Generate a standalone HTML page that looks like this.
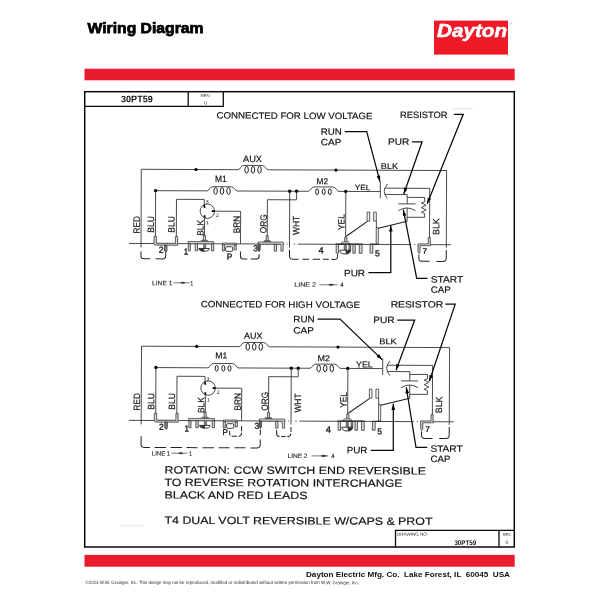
<!DOCTYPE html>
<html>
<head>
<meta charset="utf-8">
<title>Wiring Diagram</title>
<style>
html,body{margin:0;padding:0;background:#fff;}
body{width:600px;height:600px;overflow:hidden;font-family:"Liberation Sans",sans-serif;}
svg{display:block;position:absolute;left:0;top:0;will-change:transform;filter:grayscale(0);}
text{font-family:"Liberation Sans",sans-serif;fill:#111;}
.b{font-weight:bold;}
.nb text{stroke-width:0.3 !important;}
.lg text{fill:#222;stroke:#222;stroke-width:0.12;}
.lb text{stroke:#111;stroke-width:0.18;}
.w{stroke:#363636;stroke-width:0.9;fill:none;stroke-linecap:butt;stroke-linejoin:miter;}
.g{stroke:#555;stroke-width:0.8;fill:none;}
.k{stroke:#0a0a0a;stroke-width:1.25;fill:none;}
.d{stroke:#222;stroke-width:1;fill:none;}
.p{stroke:#2a2a2a;stroke-width:0.75;fill:#d6d6d6;}
.c{stroke:#161616;stroke-width:0.95;fill:none;}
.dot{fill:#000;stroke:none;}
.ah{fill:#000;stroke:none;}
</style>
</head>
<body>
<svg width="600" height="600" viewBox="0 0 600 600">
<defs>
<!-- coil: starts at 0,0 ends at 30.4,0 -->
<g id="coil">
<path class="w" d="M0,0 C2.6,0 2.4,-4.2 6,-4.2 L24.4,-4.2 C28,-4.2 27.8,0 30.4,0" stroke-width="1"/>
<ellipse class="c" cx="8.7" cy="0.1" rx="1.75" ry="3.4"/>
<ellipse class="c" cx="15.1" cy="0.1" rx="1.75" ry="3.4"/>
<ellipse class="c" cx="21.6" cy="0.1" rx="1.75" ry="3.4"/>
</g>
<g id="coil2">
<path class="w" d="M0,0 C2.6,0 2.4,-4.4 6,-4.4 L24.6,-4.4 C28.2,-4.4 28,0 30.6,0" stroke-width="1"/>
<ellipse class="c" cx="8.9" cy="0.4" rx="1.5" ry="2.9"/>
<ellipse class="c" cx="15.5" cy="0.4" rx="1.5" ry="2.9"/>
<ellipse class="c" cx="21.6" cy="0.4" rx="1.5" ry="2.9"/>
</g>
</defs>

<!-- ===== page chrome ===== -->
<rect x="0" y="0" width="600" height="600" fill="#fff"/>
<text class="b" x="87.5" y="32.5" font-size="15.4" textLength="116" lengthAdjust="spacingAndGlyphs" style="fill:#000" stroke="#000" stroke-width="0.75">Wiring Diagram</text>

<!-- logo -->
<rect x="434" y="20.6" width="74" height="34" fill="#ee1a28"/>
<text x="437" y="36.7" font-size="18.8" font-weight="bold" font-style="italic" textLength="70" lengthAdjust="spacingAndGlyphs" style="fill:#fff" stroke="#fff" stroke-width="0.55">Dayton</text>
<text x="509.5" y="24.5" font-size="4" style="fill:#999">®</text>

<!-- red bars -->
<rect x="84.5" y="68.7" width="430.2" height="11.6" fill="#e81c2c"/>
<rect x="84.5" y="554.9" width="430.2" height="11.8" fill="#e81c2c"/>

<!-- frame -->
<rect x="84.7" y="91.7" width="429.6" height="455.3" fill="none" stroke="#0a0a0a" stroke-width="1.5"/>
<path d="M84.7,106.4 H223.3 M188.2,91.7 V106.4 M223.3,91.7 V107" fill="none" stroke="#0a0a0a" stroke-width="1.3"/>
<text class="b" x="121" y="102.3" font-size="9.4" textLength="31.8" lengthAdjust="spacingAndGlyphs" transform="rotate(0.03 121 102)">30PT59</text>
<text x="200.4" y="97" font-size="4.3" textLength="10.4" lengthAdjust="spacingAndGlyphs" style="fill:#333" transform="rotate(0.03 200 97)">REV.</text>
<text x="204.3" y="104.8" font-size="5" style="fill:#333" transform="rotate(0.03 204 105)">0</text>

<!-- drawing no box -->
<path d="M395.5,547 V530.4 H514.3 M499,530.4 V547" fill="none" stroke="#0a0a0a" stroke-width="1.3"/>
<text x="397" y="535.8" font-size="4.5" textLength="31" lengthAdjust="spacingAndGlyphs" style="fill:#222" transform="rotate(0.03 397 536)">DRAWING NO.</text>
<text class="b" x="454.4" y="544.5" font-size="6.7" textLength="21.8" lengthAdjust="spacingAndGlyphs" transform="rotate(0.03 454 544)">30PT59</text>
<text x="502.8" y="536.3" font-size="4.3" textLength="8.6" lengthAdjust="spacingAndGlyphs" style="fill:#333" transform="rotate(0.03 503 536)">REV.</text>
<text x="505.6" y="544.1" font-size="5" style="fill:#333" transform="rotate(0.03 505 544)">0</text>

<!-- footer -->
<text class="b" x="306" y="577.4" font-size="7.4" textLength="204" lengthAdjust="spacingAndGlyphs" xml:space="preserve">Dayton Electric Mfg. Co.  Lake Forest, IL  60045  USA</text>
<text x="85.5" y="584" font-size="4.7" textLength="273.5" lengthAdjust="spacingAndGlyphs" style="fill:#2a2a2a" transform="rotate(0.03 85 584)">©2013 W.W. Grainger, Inc.   This design may not be reproduced, modified or redistributed without written permission from W.W. Grainger, Inc.</text>

<path d="M452,108.8 H473 M121,525.8 H143" stroke="#e2e2e2" stroke-width="1" fill="none"/>
<!-- notes -->
<g font-size="10.5" class="lb">
<text x="164.5" y="473.4" textLength="261.5" lengthAdjust="spacingAndGlyphs" transform="rotate(0.24 164.5 473.4)">ROTATION: CCW SWITCH END REVERSIBLE</text>
<text x="164.5" y="485.9" textLength="238" lengthAdjust="spacingAndGlyphs" transform="rotate(0.24 164.5 485.9)">TO REVERSE ROTATION INTERCHANGE</text>
<text x="164.5" y="498.5" textLength="143" lengthAdjust="spacingAndGlyphs" transform="rotate(0.24 164.5 498.5)">BLACK AND RED LEADS</text>
<text x="164.5" y="523.8" textLength="268" lengthAdjust="spacingAndGlyphs" transform="rotate(0.24 164.5 523.8)">T4 DUAL VOLT REVERSIBLE W/CAPS &amp; PROT</text>
</g>

<defs>
<g id="base">
<!-- baseline -->
<path class="w" d="M129.3,243.5 H284.5 M287,243.5 h1 M294,243.5 h1.5 M298.3,243.5 H411.5 M414.5,243.5 h1 M430.3,243.5 H451.2" stroke-width="0.9"/>
<!-- RED + AUX loop -->
<path class="w" d="M141.3,247.5 V169.3 H237.9 M268.3,169.3 H446.6 V246.5"/>
<use href="#coil" x="237.9" y="169.3"/>
<circle class="dot" cx="196" cy="169.3" r="1.6"/>
<circle class="dot" cx="336" cy="169.3" r="1.6"/>
<!-- M1 / M2 line -->
<path class="w" d="M155.7,190.6 H207 M237.4,190.6 H308.3 M338.6,190.6 H380.3"/>
<circle class="dot" cx="155.7" cy="190.6" r="1.7"/>
<circle class="dot" cx="289.8" cy="190.6" r="1.7"/>
<circle class="dot" cx="296.7" cy="190.6" r="1.7"/>
<circle class="dot" cx="345.8" cy="190.6" r="1.7"/>
<!-- BLU wires + terminal 2 -->
<path class="w" d="M155.7,190.6 V236.5 M176.6,237 V199.2 H204.4 V205"/>
<path class="p" d="M154.3,236.3 V243.4 Q154.3,245.1 156.1,245.1 H177.9 V236.3 H175.7 V243.2 H156.7 V236.3 Z"/>
<path class="p" d="M164.8,245.2 h2.5 v5.6 l-1.25,1.7 l-1.25,-1.7 z" style="fill:#888"/>
<!-- protector -->
<circle class="w" cx="207.5" cy="210.9" r="7.2" stroke-width="1"/>
<path d="M204.2,204.8 L204.9,207.6 M211.9,210.9 H215 M204.8,215 V217.6" stroke="#000" stroke-width="1.7" fill="none"/>
<path class="w" d="M215,210.9 H240.8 V243.5 M204.8,217.5 V235.5"/>
<!-- terminal 1 connector -->
<rect class="p" x="188.3" y="241.3" width="25.7" height="2.2" style="fill:#d0d0d0;stroke-width:0.65"/>
<rect class="p" x="188.6" y="243.5" width="2.1" height="7.1"/>
<rect class="p" x="195.5" y="243.5" width="2.3" height="7.1"/>
<rect class="p" x="211.7" y="243.5" width="2.3" height="7.1"/>
<rect class="p" x="203.6" y="235.2" width="2.1" height="5.6"/>
<path d="M202,239.6 H207.4 L209.2,241.2 H200.2 Z" fill="#666"/>
<rect x="203.4" y="243.6" width="3.2" height="4.4" fill="#777"/>
<path d="M199.2,248.2 H209.6 Q209.6,251 204.6,251 Q199.2,251 199.2,248.2 Z" fill="#fff" stroke="#222" stroke-width="0.9"/>
<path d="M199.2,248.2 H204.6 V251 Q199.2,251 199.2,248.2 Z" fill="#333"/>
<!-- P terminal -->
<rect class="p" x="222.6" y="242.7" width="14" height="1.8" style="fill:#bbb;stroke-width:0.65"/>
<rect class="p" x="222.7" y="244.5" width="2" height="6.2"/>
<rect class="p" x="234.5" y="244.5" width="2.1" height="5.1"/>
<rect x="226" y="246.4" width="7" height="4.6" rx="1" fill="#fff" stroke="#222" stroke-width="0.9"/>
<!-- ORG + terminal 3 connector -->
<path class="w" d="M267.5,236 V199.2 H296.7 V190.6 M289.8,190.6 V247"/>
<rect class="p" x="266.4" y="235.2" width="2.1" height="5.2"/>
<path d="M265,239.6 H270 L271.8,241.4 H263.1 Z" fill="#666"/>
<path class="p" d="M258.3,241.5 H283.5 V250.6 H281.2 V243.7 H258.3 Z" style="fill:#d0d0d0;stroke-width:0.65"/>
<path class="p" d="M258.4,243.7 h2.1 v5.6 l-1.05,1.8 l-1.05,-1.8 z" style="fill:#666"/>
<rect class="p" x="274.6" y="243.7" width="2.3" height="6.9"/>
<!-- YEL + terminal 4 connector -->
<path class="w" d="M345.9,190.6 V236.5"/><path d="M346.5,235.4 L367.7,220.4" fill="none" stroke="#1c1c1c" stroke-width="1.05"/>
<rect class="p" x="345" y="236.4" width="2.2" height="5"/>
<path d="M342.4,241 H349 L350,243 H341.2 Z" fill="#ddd" stroke="#333" stroke-width="0.6"/>
<path d="M336,243.3 H362.6" stroke="#222" stroke-width="1.3"/>
<rect class="p" x="336.5" y="243.6" width="2.4" height="8.8"/>
<rect class="p" x="353.2" y="243.6" width="2.4" height="8.8"/>
<rect class="p" x="359.6" y="243.6" width="2.8" height="8.8"/>
<rect class="p" x="349.4" y="243.6" width="1.6" height="6.5" style="fill:#999"/>
<rect x="344" y="243.9" width="3.2" height="5.4" fill="#777"/>
<path d="M340.2,249.4 H350.8 Q350.8,253.2 345.6,253.2 Q340.2,253.2 340.2,249.4 Z" fill="#fff" stroke="#222" stroke-width="0.9"/>
<path d="M346,249.4 H350.8 Q350.8,253.2 346,253.2 Z" fill="#333"/>
<!-- prongs + terminal 5 -->
<rect class="p" x="367.3" y="211.2" width="2.6" height="9" style="fill:#f2f2f2"/>
<rect class="p" x="373.8" y="211.2" width="2.7" height="9" style="fill:#f2f2f2"/>
<path class="w" d="M376.6,220 V227"/>
<rect class="p" x="376.5" y="226.8" width="2.1" height="16.6" style="fill:#f2f2f2"/>
<path d="M370.4,243.3 H378.8" stroke="#222" stroke-width="1.2"/>
<rect class="p" x="370.4" y="243.6" width="2.8" height="8.6"/>
<path d="M378.6,227.3 L407.3,220.2" fill="none" stroke="#1c1c1c" stroke-width="1.05"/>
<!-- run cap -->
<path class="w" d="M380.4,180.7 V197.2" stroke-width="1.1"/>
<path class="w" d="M387.6,183 Q381,190.2 387.6,197.6" stroke-width="1.1"/>
<path class="w" d="M385,187.2 H429.8 V236.5 M385,193.5 H407.3 V202.8 M407.3,207 V220.2"/>
<!-- start cap -->
<path class="w" d="M398.6,202.8 H415.6" stroke-width="1.1"/>
<path class="w" d="M398.6,209.6 Q407.2,204.2 415.6,209.6" stroke-width="1.1"/>
<!-- resistor -->
<path class="w" d="M407.3,196.3 H424.8 V200.6 L421.6,201.9 L426.2,204.2 L421.6,206.5 L426.2,208.8 L421.6,211.1 L424.8,212.6 V216.2 H407.3"/>
<!-- terminal 7 -->
<path class="d" d="M446.6,248.8 V257 Q446.6,260.2 443.4,260.2 H436.7 M430,260.2 H422.4 Q419.2,260.2 419.2,257 V253.4"/>
<path class="p" d="M428.5,236.4 H430.6 V244.6 H420.4 V250.6 L419.4,252.4 L418.3,250.6 V242.8 H428.5 Z"/>
</g>
</defs>
<defs>
<marker id="ah" viewBox="0 0 10 6" refX="10" refY="3" markerWidth="7.6" markerHeight="3.7" markerUnits="userSpaceOnUse" orient="auto">
<path d="M0,0 L10,3 L0,6 z" fill="#000"/>
</marker>
</defs>

<!-- ===== diagram 1 (low voltage) ===== -->
<g transform="translate(141.3,169.3) rotate(0.23) translate(-141.3,-169.3)">
<use href="#base"/>
<use href="#coil" x="207" y="190.6"/>
<use href="#coil2" x="308.3" y="190.6"/>
<g class="d">
<path d="M141.3,251.3 V256 Q141.3,258.8 144.1,258.8 H150.5 M156,258.8 H163.2 Q166,258.8 166,256 V253"/>
<path d="M240.8,251 V255.8 Q240.8,258.6 243.6,258.6 H247.7 M251,258.6 H256.6 Q259.4,258.6 259.4,255.8 V253.6"/>
<path d="M289.8,249.2 V255.5 Q289.8,258.6 292.9,258.6 H299 M302.8,258.6 H309.5 M313,258.6 H320.4 M323.2,258.6 H329.2 M331.8,258.6 H334.8 Q337.9,258.6 337.9,255.5 V253.4"/>
</g>
</g>

<!-- labels 1 -->
<g font-size="9.2" class="lb">
<text x="216.5" y="118.5" textLength="156" lengthAdjust="spacingAndGlyphs" transform="rotate(0.24 216.5 118.5)">CONNECTED FOR LOW VOLTAGE</text>
<text x="400" y="117.9" textLength="47.5" lengthAdjust="spacingAndGlyphs" font-size="9.2" transform="rotate(0.24 400 117.9)">RESISTOR</text>
<text x="320.8" y="134.7" textLength="21.1" lengthAdjust="spacingAndGlyphs" font-size="9.2" transform="rotate(0.24 320.8 134.7)">RUN</text>
<text x="320.8" y="145.3" textLength="20.5" lengthAdjust="spacingAndGlyphs" font-size="9.2" transform="rotate(0.24 320.8 145.3)">CAP</text>
<text x="388" y="144.8" textLength="21.3" lengthAdjust="spacingAndGlyphs" font-size="9.2" transform="rotate(0.24 388 144.8)">PUR</text>
<text x="380.8" y="169" textLength="17.3" lengthAdjust="spacingAndGlyphs" font-size="8.4" transform="rotate(0.24 380.8 169)">BLK</text>
<text x="243" y="162" textLength="19" lengthAdjust="spacingAndGlyphs" font-size="9.2" transform="rotate(0.24 243 162)">AUX</text>
<text x="215" y="182" textLength="11.7" lengthAdjust="spacingAndGlyphs" font-size="9.2" transform="rotate(0.24 215 182)">M1</text>
<text x="316.5" y="184.3" textLength="11.5" lengthAdjust="spacingAndGlyphs" font-size="8.6" transform="rotate(0.24 316.5 184.3)">M2</text>
<text x="354.7" y="190.1" textLength="15.6" lengthAdjust="spacingAndGlyphs" font-size="7.6" transform="rotate(0.24 354.7 190.1)">YEL</text>
<text x="430.8" y="282.5" textLength="32.5" lengthAdjust="spacingAndGlyphs" font-size="9.2" transform="rotate(0.24 430.8 282.5)">START</text>
<text x="430.8" y="292.7" textLength="20" lengthAdjust="spacingAndGlyphs" font-size="9.2" transform="rotate(0.24 430.8 292.7)">CAP</text>
<text x="344" y="276.3" textLength="21" lengthAdjust="spacingAndGlyphs" font-size="9.2" transform="rotate(0.24 344 275.8)">PUR</text>
</g>
<g font-size="9.2" class="lb">
<text transform="translate(139.7,233.5) rotate(-89.76)" textLength="17.3" lengthAdjust="spacingAndGlyphs">RED</text>
<text transform="translate(153.9,232.7) rotate(-89.76)" textLength="16.5" lengthAdjust="spacingAndGlyphs">BLU</text>
<text transform="translate(174.5,232.7) rotate(-89.76)" textLength="16.5" lengthAdjust="spacingAndGlyphs">BLU</text>
<text transform="translate(203.4,235.8) rotate(-89.76)" textLength="15.8" lengthAdjust="spacingAndGlyphs">BLK</text>
<text transform="translate(239.7,233.3) rotate(-89.76)" textLength="17.5" lengthAdjust="spacingAndGlyphs">BRN</text>
<text transform="translate(266.6,233.3) rotate(-89.76)" textLength="19" lengthAdjust="spacingAndGlyphs">ORG</text>
<text transform="translate(299.2,235) rotate(-89.76)" textLength="19.2" lengthAdjust="spacingAndGlyphs">WHT</text>
<text transform="translate(344.5,230) rotate(-89.76)" textLength="15.8" lengthAdjust="spacingAndGlyphs">YEL</text>
<text transform="translate(439.2,235) rotate(-89.76)" textLength="16.7" lengthAdjust="spacingAndGlyphs">BLK</text>
</g>
<g font-size="8.8" class="lb nb">
<text x="158.7" y="252.7" textLength="4.8" lengthAdjust="spacingAndGlyphs" transform="rotate(0.24 158.7 252.7)">2</text>
<text x="183.8" y="254.4" textLength="4.4" lengthAdjust="spacingAndGlyphs" transform="rotate(0.24 183.8 254.4)">1</text>
<text x="226.8" y="259.6" textLength="5.6" lengthAdjust="spacingAndGlyphs" font-size="8.4" transform="rotate(0.24 226.8 259.6)">P</text>
<text x="253.2" y="251.3" textLength="4.8" lengthAdjust="spacingAndGlyphs" transform="rotate(0.24 253.2 251.9)">3</text>
<text x="318.4" y="253.2" textLength="5.2" lengthAdjust="spacingAndGlyphs" transform="rotate(0.24 318.4 253.2)">4</text>
<text x="374.9" y="256.3" textLength="4.8" lengthAdjust="spacingAndGlyphs" font-size="8.4" transform="rotate(0.24 374.9 256.3)">5</text>
<text x="422.4" y="253.5" textLength="4.6" lengthAdjust="spacingAndGlyphs" font-size="7.6" transform="rotate(0.24 422.4 253.5)">7</text>
</g>
<g font-size="5.2" style="fill:#111">
<text x="205.8" y="203.5" transform="rotate(0.24 206 203.3)">3</text>
<text x="215.9" y="216.9" transform="rotate(0.24 216.2 216.7)">2</text>
<text x="206.1" y="224.2" transform="rotate(0.24 206.4 223.9)">1</text>
</g>
<!-- leaders 1 -->
<g class="k">
<path d="M344.8,131.7 H366.7 L380,181.7" marker-end="url(#ah)"/>
<path d="M412,141.8 H422.1 L403.8,194" marker-end="url(#ah)"/>
<path d="M453.8,114.3 H463.2 L427.2,203.8" marker-end="url(#ah)"/>
<path d="M427.5,278.3 H416.7 L403.3,209.7" marker-end="url(#ah)"/>
<path d="M368.3,272.5 H390.8 V225.4" marker-end="url(#ah)"/>
</g>
<!-- LINE legends 1 -->
<g font-size="6.3" class="lg">
<text x="152" y="285.3" textLength="20.5" lengthAdjust="spacingAndGlyphs" transform="rotate(0.2 152 285.3)">LINE 1</text>
<text x="190.3" y="285.4" textLength="3" lengthAdjust="spacingAndGlyphs" transform="rotate(0.2 190 285.4)">1</text>
<text x="294.2" y="286.7" textLength="21.8" lengthAdjust="spacingAndGlyphs" transform="rotate(0.2 294 286.7)">LINE 2</text>
<text x="340.3" y="286.9" textLength="3.4" lengthAdjust="spacingAndGlyphs" transform="rotate(0.2 340 286.9)">4</text>
</g>
<path class="g" d="M173.5,282.8 H189.5"/><path d="M180.6,282.8 L182.5,282 L185,282.8 L182.5,283.6 z" fill="#222" stroke="#222" stroke-width="0.4"/>
<path class="g" d="M319.5,284.8 H337.5"/><path d="M328.6,284.8 L330.5,284 L334,284.8 L330.5,285.6 z" fill="#222" stroke="#222" stroke-width="0.4"/>

<!-- ===== diagram 2 (high voltage) ===== -->
<g transform="translate(141.5,346.2) rotate(0.26) scale(1.0092,1) translate(-141.3,-169.3)">
<use href="#base"/>
<use href="#coil2" x="207" y="190.6"/>
<use href="#coil" x="308.3" y="190.6"/>
<g class="d">
<path d="M141.3,259.3 V267.4 Q141.3,270.5 144.4,270.5 H150.2 M154.7,270.5 H166.1 M170.5,270.5 H181.9 M186.4,270.5 H197.3 M202.2,270.5 H213.6 M218.1,270.5 H229 M233.9,270.5 H244.8 M249.8,270.5 H256.3 Q259.4,270.5 259.4,267.4 V262.1 M259.4,257.6 V252.1"/>
<path d="M240.8,248.6 V255.9 Q240.8,259 237.7,259 H232.1 Q229,259 229,255.9 V253.6" stroke-dasharray="5.2 1.6"/>
<path d="M289.8,249.5 V254.4 M289.7,256 Q289.4,259 286.2,259 M284.6,259 H280.2 M278.5,259 Q275.6,259 275.6,256 V252.2"/>
</g>
</g>
<!-- labels 2 -->
<g font-size="9.2" class="lb">
<text x="200.7" y="307.3" textLength="159.3" lengthAdjust="spacingAndGlyphs" transform="rotate(0.24 200.7 306.8)">CONNECTED FOR HIGH VOLTAGE</text>
<text x="390.7" y="307.4" textLength="52.5" lengthAdjust="spacingAndGlyphs" font-size="9.2" transform="rotate(0.24 390.7 306.9)">RESISTOR</text>
<text x="293.3" y="322.2" textLength="21.3" lengthAdjust="spacingAndGlyphs" font-size="9.2" transform="rotate(0.24 293.5 321.5)">RUN</text>
<text x="293.3" y="333.5" textLength="20.5" lengthAdjust="spacingAndGlyphs" font-size="9.2" transform="rotate(0.24 293.5 333)">CAP</text>
<text x="373.3" y="322.9" textLength="21.4" lengthAdjust="spacingAndGlyphs" font-size="9.2" transform="rotate(0.24 373.3 322.9)">PUR</text>
<text x="379.2" y="344.2" textLength="17.6" lengthAdjust="spacingAndGlyphs" font-size="8.4" transform="rotate(0.24 379.2 344.2)">BLK</text>
<text x="244.1" y="338.7" textLength="18.4" lengthAdjust="spacingAndGlyphs" font-size="8.6" transform="rotate(0.24 244.1 338.7)">AUX</text>
<text x="215.3" y="358.5" textLength="12" lengthAdjust="spacingAndGlyphs" font-size="8.6" transform="rotate(0.24 215.3 358.1)">M1</text>
<text x="317.5" y="361.3" textLength="12.5" lengthAdjust="spacingAndGlyphs" font-size="8.6" transform="rotate(0.24 317.5 361.3)">M2</text>
<text x="356" y="367.5" textLength="16.8" lengthAdjust="spacingAndGlyphs" font-size="8.6" transform="rotate(0.24 356 367.5)">YEL</text>
<text x="430.4" y="451.7" textLength="32.3" lengthAdjust="spacingAndGlyphs" font-size="9.2" transform="rotate(0.24 430.4 451.7)">START</text>
<text x="430.4" y="462" textLength="20" lengthAdjust="spacingAndGlyphs" font-size="9.2" transform="rotate(0.24 430.4 462)">CAP</text>
<text x="346.7" y="453.3" textLength="20.8" lengthAdjust="spacingAndGlyphs" font-size="9.2" transform="rotate(0.24 346.7 453.3)">PUR</text>
</g>
<g font-size="9.2" class="lb">
<text transform="translate(139.9,410.4) rotate(-89.76)" textLength="17.3" lengthAdjust="spacingAndGlyphs">RED</text>
<text transform="translate(154.2,409.7) rotate(-89.76)" textLength="16.5" lengthAdjust="spacingAndGlyphs">BLU</text>
<text transform="translate(175.0,409.7) rotate(-89.76)" textLength="16.5" lengthAdjust="spacingAndGlyphs">BLU</text>
<text transform="translate(204.2,413.0) rotate(-89.76)" textLength="15.8" lengthAdjust="spacingAndGlyphs">BLK</text>
<text transform="translate(240.8,410.6) rotate(-89.76)" textLength="17.5" lengthAdjust="spacingAndGlyphs">BRN</text>
<text transform="translate(268.0,410.8) rotate(-89.76)" textLength="19" lengthAdjust="spacingAndGlyphs">ORG</text>
<text transform="translate(300.9,412.6) rotate(-89.76)" textLength="19.2" lengthAdjust="spacingAndGlyphs">WHT</text>
<text transform="translate(346.6,407.8) rotate(-89.76)" textLength="15.8" lengthAdjust="spacingAndGlyphs">YEL</text>
<text transform="translate(442.1,413.2) rotate(-89.76)" textLength="16.7" lengthAdjust="spacingAndGlyphs">BLK</text>
</g>
<g font-size="8.8" class="lb nb">
<text x="159.1" y="429.7" textLength="4.8" lengthAdjust="spacingAndGlyphs" font-size="8.6" transform="rotate(0.24 159.1 429.7)">2</text>
<text x="184.4" y="431.5" textLength="4.4" lengthAdjust="spacingAndGlyphs" font-size="8.6" transform="rotate(0.24 184.4 431.5)">1</text>
<text x="254.4" y="428.8" textLength="4.8" lengthAdjust="spacingAndGlyphs" font-size="8.6" transform="rotate(0.24 254.4 429.3)">3</text>
<text x="377.2" y="434.3" textLength="4.8" lengthAdjust="spacingAndGlyphs" font-size="8.4" transform="rotate(0.24 377.2 434.3)">5</text>
<text x="425.2" y="431.7" textLength="4.6" lengthAdjust="spacingAndGlyphs" font-size="7.6" transform="rotate(0.24 425.2 431.7)">7</text>
<text x="222.4" y="435" textLength="5.4" lengthAdjust="spacingAndGlyphs" font-size="8.4" transform="rotate(0.24 222.4 435)">P</text>
<text x="325.7" y="432.6" textLength="5.2" lengthAdjust="spacingAndGlyphs" transform="rotate(0.24 325.7 432.6)">4</text>
</g>
<g font-size="5.2" style="fill:#111">
<text x="206.6" y="380.7" transform="rotate(0.24 206.8 380.5)">3</text>
<text x="216.8" y="394.1" transform="rotate(0.24 217.1 393.9)">2</text>
<text x="206.9" y="401.4" transform="rotate(0.24 207.2 401.1)">1</text>
</g>
<!-- leaders 2 -->
<g class="k">
<path d="M317.5,319 H340 L382.2,359.6" marker-end="url(#ah)"/>
<path d="M397.3,320 H414.7 L396,370.2" marker-end="url(#ah)"/>
<path d="M445.3,304.2 H455.2 L429.3,381.3" marker-end="url(#ah)"/>
<path d="M427.3,447.3 H416 L406.3,387.3" marker-end="url(#ah)"/>
<path d="M370.8,450.3 H393.3 V403.8" marker-end="url(#ah)"/>
</g>
<g font-size="6.3" class="lg">
<text x="151.8" y="455.6" textLength="18.4" lengthAdjust="spacingAndGlyphs" transform="rotate(0.2 152 455.6)">LINE 1</text>
<text x="189" y="455.7" textLength="3" lengthAdjust="spacingAndGlyphs" transform="rotate(0.2 189 455.7)">1</text>
<text x="287.5" y="458" textLength="20" lengthAdjust="spacingAndGlyphs" transform="rotate(0.2 287 458)">LINE 2</text>
<text x="331.2" y="458.2" textLength="3.4" lengthAdjust="spacingAndGlyphs" transform="rotate(0.2 331 458.2)">4</text>
</g>
<path class="g" d="M171.7,453.2 H187.5"/><path d="M178.6,453.2 L180.5,452.4 L183,453.2 L180.5,454 z" fill="#222" stroke="#222" stroke-width="0.4"/>
<path class="g" d="M311.7,455.9 H328.3"/><path d="M321.2,455.9 L323,455.1 L326.7,455.9 L323,456.7 z" fill="#222" stroke="#222" stroke-width="0.4"/>
<!--DIAGRAMS_END-->
</svg>
</body>
</html>
